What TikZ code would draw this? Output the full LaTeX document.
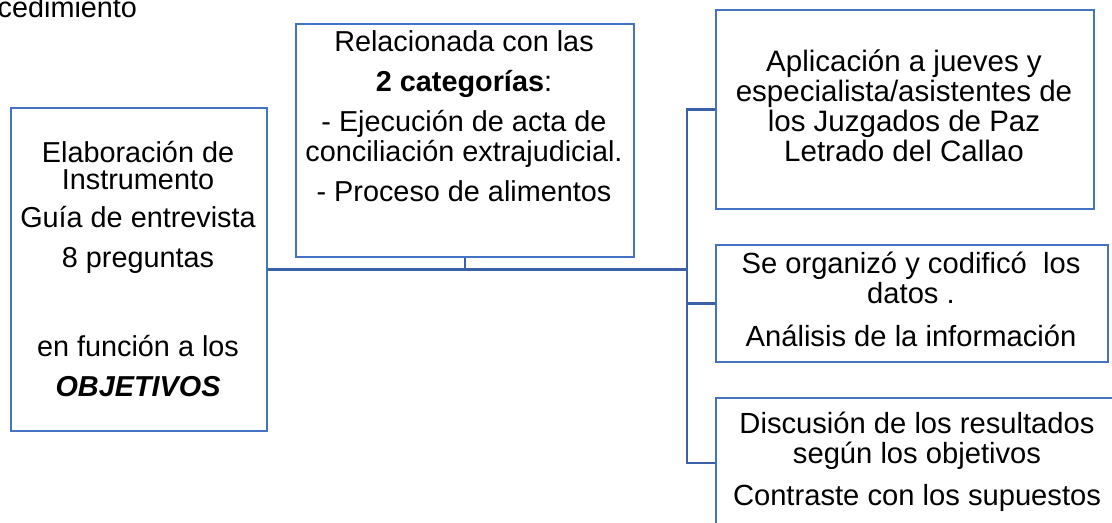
\documentclass[tikz,border=0pt]{standalone}
\usepackage{fontspec}
\setmainfont{Liberation Sans}
\usepackage{tikz}
\usetikzlibrary{positioning, calc}
\usepackage{xcolor}
\definecolor{boxblue}{RGB}{68,114,196}
\definecolor{lineblue}{RGB}{60,96,168}

\begin{document}
\begin{tikzpicture}[thick, x=0.02cm, y=-0.02cm, font=\fontsize{16.4}{15.3}\selectfont]
		
		\useasboundingbox (0,0) rectangle (1112,522);
		
		% Define styles
		\tikzstyle{box} = [rectangle, draw=boxblue, line width=1.1pt, anchor=north west, inner sep=0pt]
		\tikzstyle{txt} = [align=center, inner sep=0pt, anchor=base]
		\tikzstyle{link} = [draw=lineblue, line width=1.3pt]
		\tikzstyle{spine} = [draw=lineblue, line width=1.7pt]
		
		% Boxes
		\node[box, minimum width=5.12cm, minimum height=6.46cm] (elab) at (10,107) {};
		\node[box, minimum width=6.76cm, minimum height=4.66cm] (rel) at (295,23) {};
		\node[box, minimum width=7.56cm, minimum height=3.98cm] (apl) at (715,9) {};
		\node[box, minimum width=7.84cm, minimum height=2.34cm] (org) at (715,244) {};
		\node[box, minimum width=8.08cm, minimum height=2.60cm] (disc) at (715,397) {};
		
		% Texts (anchored at the baseline of the last line)
		\node[anchor=base west, inner sep=0pt] (ced) at (-3,17) {cedimiento};
		\node[txt] (elabtxt) at (138,396) {Elaboración de\\ Instrumento\\[6.2pt] Guía de entrevista\\[7.4pt] 8 preguntas\\[34pt] en función a los\\[7.4pt] \textbf{\textit{OBJETIVOS}}};
		\node[txt, font=\fontsize{16.4}{17}\selectfont] (reltxt) at (464,201) {Relacionada con las\\[5.7pt] \textbf{2 categorías}:\\[5.7pt] - Ejecución de acta de\\ conciliación extrajudicial.\\[5.7pt] - Proceso de alimentos};
		\node[txt, font=\fontsize{16.8}{17}\selectfont] (apltxt) at (904,161) {Aplicación a jueves y\\ especialista/asistentes de\\ los Juzgados de Paz\\ Letrado del Callao};
		\node[txt, font=\fontsize{16.6}{17}\selectfont] (orgtxt) at (911,346) {Se organizó y codificó\ \ los\\ datos .\\[7.4pt] Análisis de la información};
		\node[txt, font=\fontsize{16.6}{17}\selectfont] (disctxt) at (917,505) {Discusión de los resultados\\ según los objetivos\\[6.8pt] Contraste con los supuestos};
		
		% Connectors
		\coordinate (hub) at (687,268);
		\draw[spine] (elab.east) -- (elab.east -| hub);
		\draw[link] (rel.south) -- (rel.south |- hub);
		\draw[link] (apl.west) -| (hub) |- (disc.west);
		\draw[link] (org.west) -- (org.west -| hub);
		
	\end{tikzpicture}
\end{document}
